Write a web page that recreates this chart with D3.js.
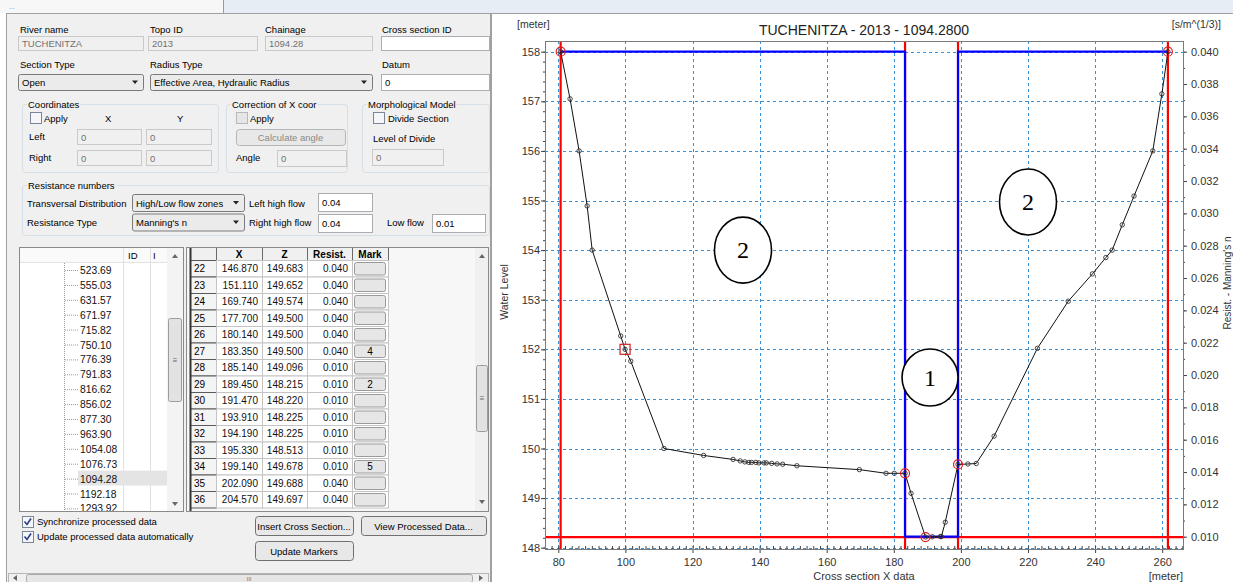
<!DOCTYPE html>
<html>
<head>
<meta charset="utf-8">
<script src="https://cdn.jsdelivr.net/npm/d3@7"></script>
<style>
  body { margin: 0; background: #fff; }
  svg { display: block; font-family: "Liberation Sans", Arial, sans-serif; }
</style>
</head>
<body>
<svg id="view" width="1233" height="582"></svg>
<script>
// ---- DATA ---------------------------------------------------------------
// cross section profile (x, z) and resistance per point
let profile_x = [80.7, 83.5, 86.2, 88.6, 90.1, 98.6, 99.9, 101.6, 111.5, 123.3,
  132.1, 134.2, 135.6, 136.8, 137.6, 138.9, 139.8, 141.3, 142.0, 143.6, 145.2,
  146.87, 151.11, 169.74, 177.7, 180.14, 183.35, 185.14, 189.45, 191.47, 193.91,
  194.19, 195.33, 199.14, 202.09, 204.57, 209.9, 222.8, 232.0, 239.2, 243.2,
  245.1, 248.1, 251.6, 257.2, 259.9, 261.7];
let profile_z = [158.0, 157.05, 156.0, 154.89, 154.0, 152.27, 152.0, 151.76, 150.0, 149.86,
  149.78, 149.75, 149.73, 149.72, 149.72, 149.72, 149.71, 149.71, 149.71, 149.70, 149.69,
  149.683, 149.652, 149.574, 149.5, 149.5, 149.5, 149.096, 148.215, 148.22, 148.225,
  148.225, 148.513, 149.678, 149.688, 149.697, 150.25, 152.02, 152.97, 153.52, 153.85,
  154.0, 154.51, 155.09, 156.0, 157.15, 158.0];
let profile_resist = profile_x.map((v) => (v > 183.35 && v <= 199.14 ? 0.01 : 0.04));

// marker points (red circles) and the square marker
let marker_x = [80.7, 183.35, 189.45, 199.14, 261.7];
let marker_z = [158.0, 149.5, 148.215, 149.678, 158.0];
let square_x = [99.9];
let square_z = [152.0];

// annotation bubbles drawn on the chart
let note_text = ["2", "2", "1"];
let note_x = [135.05, 220.0, 190.8];
let note_z = [154.0, 154.97, 151.43];

// axis ticks
let x_ticks = d3.range(80, 261, 20);
let z_ticks = d3.range(148, 159, 1);
let r_ticks = [0.010, 0.012, 0.014, 0.016, 0.018, 0.020, 0.022, 0.024, 0.026, 0.028,
  0.030, 0.032, 0.034, 0.036, 0.038, 0.040];

// left panel lists
let chainages = ["523.69", "555.03", "631.57", "671.97", "715.82", "750.10", "776.39",
  "791.83", "816.62", "856.02", "877.30", "963.90", "1054.08", "1076.73", "1094.28",
  "1192.18", "1293.92"];
let row_ids = [22, 23, 24, 25, 26, 27, 28, 29, 30, 31, 32, 33, 34, 35, 36];
let row_x = ["146.870", "151.110", "169.740", "177.700", "180.140", "183.350", "185.140",
  "189.450", "191.470", "193.910", "194.190", "195.330", "199.140", "202.090", "204.570"];
let row_z = ["149.683", "149.652", "149.574", "149.500", "149.500", "149.500", "149.096",
  "148.215", "148.220", "148.225", "148.225", "148.513", "149.678", "149.688", "149.697"];
let row_resist = ["0.040", "0.040", "0.040", "0.040", "0.040", "0.040", "0.010", "0.010",
  "0.010", "0.010", "0.010", "0.010", "0.010", "0.040", "0.040"];
let row_mark = ["", "", "", "", "", "4", "", "2", "", "", "", "", "5", "", ""];

// ---- BASE ---------------------------------------------------------------
let svg = d3.select("#view");

svg.append("rect").attr("x", 0).attr("y", 0).attr("width", 1233).attr("height", 582).attr("fill", "#fff");
svg.append("rect").attr("x", 0).attr("y", 0).attr("width", 223).attr("height", 13).attr("fill", "#f7f7f7");
svg.append("rect").attr("x", 223).attr("y", 0).attr("width", 1010).attr("height", 13).attr("fill", "#e7edf4");
svg.append("line").attr("x1", 223.5).attr("x2", 223.5).attr("y1", 0).attr("y2", 13).attr("stroke", "#9a9a9a");
svg.append("text").attr("x", 9).attr("y", 9).attr("font-size", 7).attr("fill", "#888").text("...");
svg.append("line").attr("x1", 491).attr("x2", 1233).attr("y1", 13.5).attr("y2", 13.5).attr("stroke", "#a0a0a0");

// ---- LEFT PANEL ---------------------------------------------------------
let ui = svg.append("g").attr("font-size", 9.5);

ui.append("rect").attr("x", 6.5).attr("y", 13.5).attr("width", 484).attr("height", 570)
  .attr("fill", "#f0f0f0").attr("stroke", "#a0a0a0");

function label(x, y, t, color, anchor) {
  return ui.append("text").attr("x", x).attr("y", y)
    .attr("fill", color || "#000").attr("text-anchor", anchor || "start").text(t);
}
function box(x, y, w, h, fill, stroke, rx) {
  return ui.append("rect").attr("x", x + 0.5).attr("y", y + 0.5).attr("width", w).attr("height", h)
    .attr("rx", rx || 0).attr("fill", fill).attr("stroke", stroke);
}
function field(x, y, w, h, t, enabled) {
  box(x, y, w, h, enabled ? "#fff" : "#f0f0f0", enabled ? "#abadb3" : "#c9c9c9");
  if (t) label(x + 4, y + h / 2 + 4, t, enabled ? "#000" : "#707070");
}
function combo(x, y, w, h, t) {
  box(x, y, w, h, "#ebebeb", "#7a7a7a", 2);
  label(x + 4, y + h / 2 + 4, t);
  let ax = x + w - 11, ay = y + h / 2 - 1.5;
  ui.append("path").attr("d", `M${ax},${ay}L${ax + 6},${ay}L${ax + 3},${ay + 3.5}Z`).attr("fill", "#222");
}
function check(x, y, checked, enabled) {
  box(x, y, 11, 11, enabled ? "#f4f6fa" : "#e6e6e6", enabled ? "#7a8696" : "#b8b8b8");
  if (checked) {
    ui.append("path").attr("d", `M${x + 2.5},${y + 5.5}L${x + 5},${y + 8.5}L${x + 9},${y + 2.5}`)
      .attr("fill", "none").attr("stroke", "#2d3d8a").attr("stroke-width", 1.6);
  }
}
function button(x, y, w, h, t, enabled) {
  box(x, y, w, h, "#e8e8e8", enabled ? "#707070" : "#b5b5b5", 3);
  label(x + w / 2, y + h / 2 + 4, t, enabled ? "#000" : "#8a8a8a", "middle");
}
function group(x, y, w, h, t) {
  box(x, y, w, h, "none", "#d5dfe5", 3);
  let tx = label(x + 6, y + 4, t);
  let bb = tx.node().getBBox();
  ui.insert("rect", () => tx.node()).attr("x", bb.x - 1).attr("y", bb.y)
    .attr("width", bb.width + 2).attr("height", bb.height).attr("fill", "#f0f0f0");
}

// first rows
label(20, 32.5, "River name");
label(150, 32.5, "Topo ID");
label(265, 32.5, "Chainage");
label(382, 32.5, "Cross section ID");
field(18, 36, 125, 14, "TUCHENITZA", false);
field(148, 36, 109, 14, "2013", false);
field(265, 36, 107, 14, "1094.28", false);
field(381, 36, 108, 14, "", true);

label(20, 68, "Section Type");
label(150, 68, "Radius Type");
label(382, 68, "Datum");
combo(18, 74, 125, 16, "Open");
combo(150, 74, 222, 16, "Effective Area, Hydraulic Radius");
field(381, 74, 108, 16, "0", true);

// group boxes
group(22, 104, 196, 68, "Coordinates");
group(226, 104, 121, 68, "Correction of X coor");
group(362, 104, 127, 68, "Morphological Model");

check(30, 112, false, true);
label(44, 121.5, "Apply");
label(105, 121.5, "X");
label(177, 121.5, "Y");
label(29, 140, "Left");
label(29, 161, "Right");
field(77, 129, 64, 15, "0", false);
field(146, 129, 65, 15, "0", false);
field(77, 150, 64, 15, "0", false);
field(146, 150, 65, 15, "0", false);

check(236, 112, false, false);
label(250, 121.5, "Apply");
button(236, 129, 109, 16, "Calculate angle", false);
label(236, 161, "Angle");
field(277, 150, 69, 16, "0", false);

check(373, 112, false, true);
label(388, 121.5, "Divide Section");
label(373, 142, "Level of Divide");
field(372, 149, 71, 16, "0", false);

group(22, 185, 467, 50, "Resistance numbers");
label(27, 206.5, "Transversal Distribution");
label(27, 226, "Resistance Type");
combo(132, 194, 112, 17, "High/Low flow zones");
combo(132, 213.5, 112, 17, "Manning's n");
label(249, 206.5, "Left high flow");
label(249, 226, "Right high flow");
label(387, 226, "Low flow");
field(318, 193, 54, 18, "0.04", true);
field(318, 214, 54, 18, "0.04", true);
field(432, 214, 53, 18, "0.01", true);

// tree list of chainages
let tree = ui.append("g").attr("font-size", 10.3);
tree.append("rect").attr("x", 19.5).attr("y", 247.5).attr("width", 164).attr("height", 264)
  .attr("fill", "#fff").attr("stroke", "#8a8a8a");
tree.append("rect").attr("x", 20).attr("y", 248).attr("width", 147).attr("height", 14).attr("fill", "#fafafa");
tree.append("line").attr("x1", 20).attr("x2", 167).attr("y1", 262.5).attr("y2", 262.5).attr("stroke", "#e3e3e3");
[123.5, 150.5].forEach((cx) => {
  tree.append("line").attr("x1", cx).attr("x2", cx).attr("y1", 248).attr("y2", 511).attr("stroke", "#e1e1e1");
});
tree.append("text").attr("x", 128).attr("y", 259).attr("font-size", 9.5).text("ID");
tree.append("text").attr("x", 153).attr("y", 259).attr("font-size", 9.5).text("I");
tree.append("line").attr("x1", 64.5).attr("x2", 64.5).attr("y1", 263).attr("y2", 511)
  .attr("stroke", "#999").attr("stroke-dasharray", "1,1");
tree.append("rect").attr("x", 78).attr("y", 262 + 14 * 14.9).attr("width", 89).attr("height", 14.9).attr("fill", "#e4e4e4");
tree.append("clipPath").attr("id", "treeclip").append("rect").attr("x", 20).attr("y", 263).attr("width", 147).attr("height", 248);
let treeRows = tree.append("g").attr("clip-path", "url(#treeclip)");
chainages.forEach((c, i) => {
  let cy = 270 + i * 14.9;
  treeRows.append("line").attr("x1", 65).attr("x2", 78).attr("y1", cy + 0.5).attr("y2", cy + 0.5)
    .attr("stroke", "#999").attr("stroke-dasharray", "1,1");
  treeRows.append("text").attr("x", 80).attr("y", cy + 4).attr("fill", "#111").text(c);
});
// vertical scrollbar of the tree
tree.append("rect").attr("x", 167).attr("y", 248).attr("width", 16).attr("height", 263).attr("fill", "#f3f3f3");
tree.append("rect").attr("x", 168.5).attr("y", 318.5).attr("width", 13).attr("height", 83).attr("rx", 2)
  .attr("fill", "#e2e2e2").attr("stroke", "#9c9c9c");
tree.append("text").attr("x", 175).attr("y", 363).attr("text-anchor", "middle").attr("font-size", 8).attr("fill", "#666").text("≡");
tree.append("path").attr("d", "M172,258L178,258L175,254Z").attr("fill", "#666");
tree.append("path").attr("d", "M172,502L178,502L175,506Z").attr("fill", "#666");

// data table
let tbl = ui.append("g").attr("font-size", 10);
tbl.append("rect").attr("x", 186.5).attr("y", 247.5).attr("width", 302).attr("height", 264)
  .attr("fill", "#f7f7f7").attr("stroke", "#8a8a8a");
let col_edges = [190, 216, 262, 307, 352, 388];
let head_y = 247, head_h = 13, row_h = 16.5;
tbl.append("clipPath").attr("id", "tblclip").append("rect").attr("x", 187).attr("y", 248).attr("width", 288).attr("height", 263);
let grid = tbl.append("g").attr("clip-path", "url(#tblclip)");
let heads = ["", "X", "Z", "Resist.", "Mark"];
heads.forEach((h, i) => {
  grid.append("rect").attr("x", col_edges[i] + 0.5).attr("y", head_y + 0.5)
    .attr("width", col_edges[i + 1] - col_edges[i]).attr("height", head_h)
    .attr("fill", "#f0f0f0").attr("stroke", "#6a6a6a");
  grid.append("text").attr("x", (col_edges[i] + col_edges[i + 1]) / 2).attr("y", head_y + 10.5)
    .attr("text-anchor", "middle").attr("font-weight", "bold").text(h);
});
row_ids.forEach((id, r) => {
  let ry = head_y + head_h + r * row_h;
  let cells = [String(id), row_x[r], row_z[r], row_resist[r]];
  for (let i = 0; i < 5; i++) {
    grid.append("rect").attr("x", col_edges[i] + 0.5).attr("y", ry + 0.5)
      .attr("width", col_edges[i + 1] - col_edges[i]).attr("height", row_h)
      .attr("fill", i === 0 ? "#f4f4f4" : "#fff").attr("stroke", i === 0 ? "#5a5a5a" : "#c4c4c4");
  }
  grid.append("text").attr("x", col_edges[0] + 4).attr("y", ry + 12).text(cells[0]);
  for (let i = 1; i < 4; i++) {
    grid.append("text").attr("x", col_edges[i + 1] - 4).attr("y", ry + 12)
      .attr("text-anchor", "end").attr("fill", "#111").text(cells[i]);
  }
  grid.append("rect").attr("x", col_edges[4] + 2.5).attr("y", ry + 2.5)
    .attr("width", col_edges[5] - col_edges[4] - 5).attr("height", row_h - 4).attr("rx", 2)
    .attr("fill", "#e6e6e6").attr("stroke", "#9a9a9a");
  if (row_mark[r]) {
    grid.append("text").attr("x", (col_edges[4] + col_edges[5]) / 2).attr("y", ry + 12)
      .attr("text-anchor", "middle").text(row_mark[r]);
  }
});
grid.append("line").attr("x1", 190.5).attr("x2", 190.5).attr("y1", 248).attr("y2", 511).attr("stroke", "#333").attr("stroke-width", 2);
// table scrollbar
tbl.append("rect").attr("x", 475).attr("y", 248).attr("width", 13).attr("height", 263).attr("fill", "#f0f0f0");
tbl.append("rect").attr("x", 476.5).attr("y", 365.5).attr("width", 11).attr("height", 66).attr("rx", 2)
  .attr("fill", "#e2e2e2").attr("stroke", "#9c9c9c");
tbl.append("text").attr("x", 482).attr("y", 401).attr("text-anchor", "middle").attr("font-size", 8).attr("fill", "#666").text("≡");
tbl.append("path").attr("d", "M479,258L485,258L482,254Z").attr("fill", "#666");
tbl.append("path").attr("d", "M479,500L485,500L482,504Z").attr("fill", "#666");

// bottom controls
check(22, 516, true, true);
label(37, 525, "Synchronize processed data");
check(22, 531, true, true);
label(37, 540, "Update processed data automatically");
button(255, 516, 98, 19, "Insert Cross Section...", true);
button(361, 516, 125, 19, "View Processed Data...", true);
button(255, 541, 98, 19, "Update Markers", true);

box(8, 573, 480, 9, "#f0f0f0", "#b5b5b5");
box(26, 574, 446, 8, "#e6e6e6", "#a8a8a8", 2);
label(249, 581, "III", "#777", "middle").attr("font-size", 6);
ui.append("path").attr("d", "M17,575L13,578L17,581Z").attr("fill", "#666");
ui.append("path").attr("d", "M479,575L483,578L479,581Z").attr("fill", "#666");

// ---- CHART --------------------------------------------------------------
svg.append("line").attr("x1", 491.5).attr("x2", 491.5).attr("y1", 13).attr("y2", 582).attr("stroke", "#a0a0a0");

let plot = { left: 545, right: 1183, top: 41, bottom: 549 };
let x = d3.scaleLinear().domain([80, 260]).range([558.3, 1162.2]);
let y = d3.scaleLinear().domain([148, 158]).range([547.7, 51.7]);
let yR = d3.scaleLinear().domain([0.010, 0.040]).range([536.7, 51.7]);

let chart = svg.append("g").attr("font-size", 11);

// grid
chart.append("g").selectAll("line").data(x_ticks).enter().append("line")
  .attr("x1", (d) => Math.round(x(d)) + 0.5).attr("x2", (d) => Math.round(x(d)) + 0.5)
  .attr("y1", plot.top).attr("y2", plot.bottom)
  .attr("stroke", "#3a8fd2").attr("stroke-dasharray", "3,3");
chart.append("g").selectAll("line").data(z_ticks).enter().append("line")
  .attr("x1", plot.left).attr("x2", plot.right)
  .attr("y1", (d) => Math.round(y(d)) + 0.5).attr("y2", (d) => Math.round(y(d)) + 0.5)
  .attr("stroke", "#3a8fd2").attr("stroke-dasharray", "3,3");

// axes
function styleAxis(g) {
  g.select(".domain").remove();
  g.selectAll(".tick line").attr("stroke", "#444");
  g.selectAll(".tick text").attr("fill", "#333").attr("font-size", 11)
    .attr("font-family", '"Liberation Sans", Arial, sans-serif');
}
chart.append("g").attr("transform", `translate(${plot.left},0)`)
  .call(d3.axisLeft(y).tickValues(d3.range(148, 158.01, 0.2)).tickSize(2).tickFormat(""))
  .call(styleAxis);
chart.append("g").attr("transform", `translate(${plot.left},0)`)
  .call(d3.axisLeft(y).tickValues(z_ticks).tickSize(4).tickPadding(1).tickFormat(d3.format("d")))
  .call(styleAxis);
chart.append("g").attr("transform", `translate(0,${plot.bottom})`)
  .call(d3.axisBottom(x).tickValues(d3.range(76, 267, 2)).tickSize(-3).tickFormat(""))
  .call(styleAxis);
chart.append("g").attr("transform", `translate(0,${plot.bottom})`)
  .call(d3.axisBottom(x).tickValues(x_ticks).tickSize(4).tickPadding(5).tickFormat(d3.format("d")))
  .call(styleAxis);
chart.append("g").attr("transform", `translate(${plot.right},0)`)
  .call(d3.axisRight(yR).tickValues(d3.range(0.010, 0.0405, 0.001)).tickSize(2).tickFormat(""))
  .call(styleAxis);
chart.append("g").attr("transform", `translate(${plot.right},0)`)
  .call(d3.axisRight(yR).tickValues(r_ticks).tickSize(4).tickPadding(4).tickFormat(d3.format(".3f")))
  .call(styleAxis);

// red extent lines (markers and lowest level)
chart.append("line").attr("x1", plot.left).attr("x2", plot.right)
  .attr("y1", y(d3.min(profile_z))).attr("y2", y(d3.min(profile_z)))
  .attr("stroke", "#ff0000").attr("stroke-width", 2.2);
chart.append("g").selectAll("line").data([marker_x[0], marker_x[1], marker_x[3], marker_x[4]]).enter().append("line")
  .attr("x1", (d) => x(d)).attr("x2", (d) => x(d)).attr("y1", plot.top).attr("y2", plot.bottom)
  .attr("stroke", "#ff0000").attr("stroke-width", 2.2);

// resistance step line
let resist_pts = profile_x.map((v, i) => [v, profile_resist[i]]);
chart.append("path").datum(resist_pts)
  .attr("d", d3.line().x((d) => x(d[0])).y((d) => yR(d[1])).curve(d3.curveStepBefore))
  .attr("fill", "none").attr("stroke", "#0000ff").attr("stroke-width", 2.2);

// frame
chart.append("rect").attr("x", plot.left + 0.5).attr("y", plot.top + 0.5)
  .attr("width", plot.right - plot.left).attr("height", plot.bottom - plot.top)
  .attr("fill", "none").attr("stroke", "#7a7a7a");

// profile
let pts = profile_x.map((v, i) => [v, profile_z[i]]);
chart.append("path").datum(pts)
  .attr("d", d3.line().x((d) => x(d[0])).y((d) => y(d[1])))
  .attr("fill", "none").attr("stroke", "#111").attr("stroke-width", 1);
chart.append("g").selectAll("circle").data(pts).enter().append("circle")
  .attr("cx", (d) => x(d[0])).attr("cy", (d) => y(d[1])).attr("r", 2.2)
  .attr("fill", "none").attr("stroke", "#333").attr("stroke-width", 0.9);

// markers
chart.append("g").selectAll("circle").data(marker_x).enter().append("circle")
  .attr("cx", (d) => x(d)).attr("cy", (d, i) => y(marker_z[i])).attr("r", 4.5)
  .attr("fill", "none").attr("stroke", "#e02020").attr("stroke-width", 1.2);
chart.append("g").selectAll("rect").data(square_x).enter().append("rect")
  .attr("x", (d) => x(d) - 5).attr("y", (d, i) => y(square_z[i]) - 5).attr("width", 10).attr("height", 10)
  .attr("fill", "none").attr("stroke", "#d02020").attr("stroke-width", 1.2);

// annotation bubbles
let notes = chart.append("g").selectAll("g").data(note_text).enter().append("g")
  .attr("transform", (d, i) => `translate(${x(note_x[i])},${y(note_z[i])})`);
notes.append("ellipse").attr("rx", (d) => (d === "1" ? 28 : 28.5)).attr("ry", (d) => (d === "1" ? 28.5 : 33))
  .attr("fill", "#fff").attr("stroke", "#000").attr("stroke-width", 1.6);
notes.append("text").attr("text-anchor", "middle").attr("y", 8)
  .attr("font-family", '"Liberation Serif", "Times New Roman", serif').attr("font-size", 24).text((d) => d);

// titles and labels
chart.append("text").attr("x", (plot.left + plot.right) / 2).attr("y", 35).attr("text-anchor", "middle")
  .attr("font-size", 14).attr("fill", "#222").text("TUCHENITZA - 2013 - 1094.2800");
chart.append("text").attr("x", 517).attr("y", 28).attr("font-size", 10.5).attr("fill", "#333").text("[meter]");
chart.append("text").attr("x", 1221).attr("y", 28).attr("text-anchor", "end").attr("font-size", 10.5).attr("fill", "#333").text("[s/m^(1/3)]");
chart.append("text").attr("transform", "translate(508,292) rotate(-90)").attr("text-anchor", "middle")
  .attr("font-size", 10.5).attr("fill", "#333").text("Water Level");
chart.append("text").attr("transform", "translate(1230.5,283) rotate(-90)").attr("text-anchor", "middle")
  .attr("font-size", 10).attr("fill", "#333").text("Resist. - Manning's n");
chart.append("text").attr("x", 864).attr("y", 580).attr("text-anchor", "middle")
  .attr("font-size", 11).attr("fill", "#333").text("Cross section X data");
chart.append("text").attr("x", 1183).attr("y", 580).attr("text-anchor", "end")
  .attr("font-size", 11).attr("fill", "#333").text("[meter]");
</script>
</body>
</html>
